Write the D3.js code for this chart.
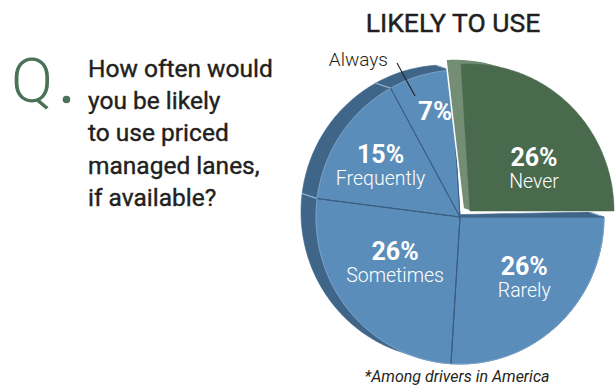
<!DOCTYPE html>
<html>
<head>
<meta charset="utf-8">
<script src="https://cdn.jsdelivr.net/npm/d3@7"></script>
<style>
  html, body { margin: 0; padding: 0; background: #ffffff; }
  svg { display: block; }
  text { font-family: Roboto, "Open Sans", "DejaVu Sans", sans-serif; }
</style>
</head>
<body>
<svg id="chart" width="615" height="385"></svg>
<script>
// Survey answers, listed clockwise from 12 o'clock
const categories = ["Never", "Rarely", "Sometimes", "Frequently", "Always"];
const shares = [26, 26, 26, 15, 7];
const shareLabels = ["26%", "26%", "26%", "15%", "7%"];
const pulledOut = ["Never"];

const title = "LIKELY TO USE";
const questionMark = "Q";
const questionLines = ["How often would", "you be likely", "to use priced", "managed lanes,", "if available?"];
const footnote = "*Among drivers in America";

// ---- layout ----
const svg = d3.select("#chart");
const cx = 460, cy = 217;          // pie centre
const rx = 144, ry = 147;          // face radii
const depth = [-15, -5];           // extrusion of the disc at its rim
const depthAtCentre = 0.45;        // extrusion shrinks toward the centre
const pullOffset = [10, -6];       // displacement of the pulled-out slice

const colors = {
  face: "#5b8dbb", rim: "#3f6689", seamFace: "#3a5d80", seamRim: "#8fb0cf",
  pulledFace: "#4a6a4e", pulledRim: "#738e75",
  text: "#231f20", q: "#4b7257"
};

// label anchors: angle (deg, clockwise from top) and radius fraction
const labelPlace = {
  Never: [57, 0.53], Rarely: [133, 0.61], Sometimes: [235, 0.55],
  Frequently: [302, 0.65], Always: [346.5, 0.74]
};

const pie = d3.pie().sort(null).value(d => d)
  .startAngle(-Math.PI / 50).endAngle(2 * Math.PI - Math.PI / 50);
const arcs = pie(shares).map((a, i) => ({ ...a, name: categories[i], label: shareLabels[i] }));

// elliptical polar position on the face
function pt(angle, frac, off = [0, 0]) {
  return [cx + off[0] + rx * frac * Math.sin(angle), cy + off[1] - ry * frac * Math.cos(angle)];
}
// back-face counterpart of a face point with radial fraction rho
function back(p, rho) {
  const k = depthAtCentre + (1 - depthAtCentre) * rho;
  return [p[0] + depth[0] * k, p[1] + depth[1] * k];
}
function sliceFront(a, off) {
  const n = Math.max(4, Math.ceil((a.endAngle - a.startAngle) / (Math.PI / 180)));
  const pts = [{ p: pt(0, 0, off), rho: 0 }];
  for (let k = 0; k <= n; k++) {
    pts.push({ p: pt(a.startAngle + (a.endAngle - a.startAngle) * k / n, 1, off), rho: 1 });
  }
  return pts;
}
function arcPoints(a0, a1, off) {
  const n = Math.max(4, Math.ceil((a1 - a0) / (Math.PI / 180)));
  const pts = [];
  for (let k = 0; k <= n; k++) pts.push(pt(a0 + (a1 - a0) * k / n, 1, off));
  return pts;
}
const closed = d3.line().curve(d3.curveLinearClosed);
const open = d3.line();

const g = svg.append("g");

function solid(a, off) {
  const front = sliceFront(a, off);
  const backPts = front.map(d => back(d.p, d.rho));
  const hull = d3.polygonHull(front.map(d => d.p).concat(backPts));
  return { front: front.map(d => d.p), hull };
}

const normal = arcs.filter(a => !pulledOut.includes(a.name));
const pulled = arcs.filter(a => pulledOut.includes(a.name));

// side of the disc
normal.forEach(a => {
  const s = solid(a, [0, 0]);
  g.append("path").attr("d", closed(s.hull)).attr("fill", colors.rim)
    .attr("stroke", colors.rim).attr("stroke-width", 0.6);
});
// light seams across the rim between slices
normal.forEach(a => {
  [a.startAngle, a.endAngle].forEach(ang => {
    const p = pt(ang, 1);
    const b = back(p, 1);
    g.append("line")
      .attr("x1", p[0]).attr("y1", p[1]).attr("x2", b[0]).attr("y2", b[1])
      .attr("stroke", colors.seamRim).attr("stroke-width", 1);
  });
});
// faces
normal.forEach(a => {
  g.append("path").attr("d", closed(sliceFront(a, [0, 0]).map(d => d.p)))
    .attr("fill", colors.face).attr("stroke", colors.face).attr("stroke-width", 0.5);
});
// soft highlight where face meets rim
normal.forEach(a => {
  g.append("path").attr("d", open(arcPoints(a.startAngle, a.endAngle, [0, 0])))
    .attr("fill", "none").attr("stroke", "#86a9cb").attr("stroke-width", 0.8);
});
// radial separators on the face
normal.forEach(a => {
  [a.startAngle, a.endAngle].forEach(ang => {
    const p = pt(ang, 1);
    g.append("line").attr("x1", cx).attr("y1", cy).attr("x2", p[0]).attr("y2", p[1])
      .attr("stroke", colors.seamFace).attr("stroke-width", 1);
  });
});

// pulled-out slice
pulled.forEach(a => {
  const s = solid(a, pullOffset);
  g.append("path").attr("d", closed(s.hull)).attr("fill", colors.pulledRim)
    .attr("stroke", "#ffffff").attr("stroke-width", 1.5);
  g.append("path").attr("d", closed(s.front)).attr("fill", colors.pulledFace)
    .attr("stroke", colors.pulledFace).attr("stroke-width", 0.5);
});

// slice labels
arcs.forEach(a => {
  const [deg, frac] = labelPlace[a.name];
  const off = pulledOut.includes(a.name) ? pullOffset : [0, 0];
  const [x, y] = pt(deg * Math.PI / 180, frac, off);
  if (a.name === "Always") {
    g.append("text").attr("x", x).attr("y", y + 9).attr("text-anchor", "middle").attr("fill", "#ffffff")
      .attr("font-size", 26).attr("font-weight", 700).text(a.label);
  } else {
    g.append("text").attr("x", x).attr("y", y - 3).attr("text-anchor", "middle").attr("fill", "#ffffff")
      .attr("font-size", 25).attr("font-weight", 700).text(a.label);
    g.append("text").attr("x", x).attr("y", y + 19).attr("text-anchor", "middle").attr("fill", "#ffffff")
      .attr("font-size", 19.5).attr("font-weight", 300).text(a.name);
  }
});

// "Always" callout outside the pie
const alwaysArc = arcs.find(a => a.name === "Always");
const leaderEnd = pt((alwaysArc.startAngle + alwaysArc.endAngle) / 2 - 0.08, 0.88);
svg.append("line").attr("x1", 397).attr("y1", 63).attr("x2", leaderEnd[0]).attr("y2", leaderEnd[1])
  .attr("stroke", colors.text).attr("stroke-width", 1.1);
svg.append("text").attr("x", 388).attr("y", 66).attr("text-anchor", "end")
  .attr("font-size", 19).attr("font-weight", 300).attr("fill", colors.text).text("Always");

// title
svg.append("text").attr("x", 453).attr("y", 32).attr("text-anchor", "middle")
  .attr("font-size", 26.5).attr("font-weight", 400).attr("fill", colors.text)
  .attr("stroke", colors.text).attr("stroke-width", 0.45).text(title);

// question block
svg.append("text").attr("x", 11).attr("y", 102).attr("font-size", 62).attr("font-weight", 300)
  .attr("fill", colors.q).text(questionMark);
svg.append("circle").attr("cx", 66.5).attr("cy", 99.5).attr("r", 3.8).attr("fill", colors.q);
const q = svg.append("text").attr("font-size", 24.5).attr("font-weight", 400).attr("fill", colors.text)
  .attr("stroke", colors.text).attr("stroke-width", 0.4);
questionLines.forEach((line, i) => {
  q.append("tspan").attr("x", 88).attr("y", 77 + i * 32.2).text(line);
});

// footnote
svg.append("text").attr("x", 457).attr("y", 382).attr("text-anchor", "middle")
  .attr("font-size", 16).attr("font-style", "italic").attr("fill", colors.text).text(footnote);
</script>
</body>
</html>
